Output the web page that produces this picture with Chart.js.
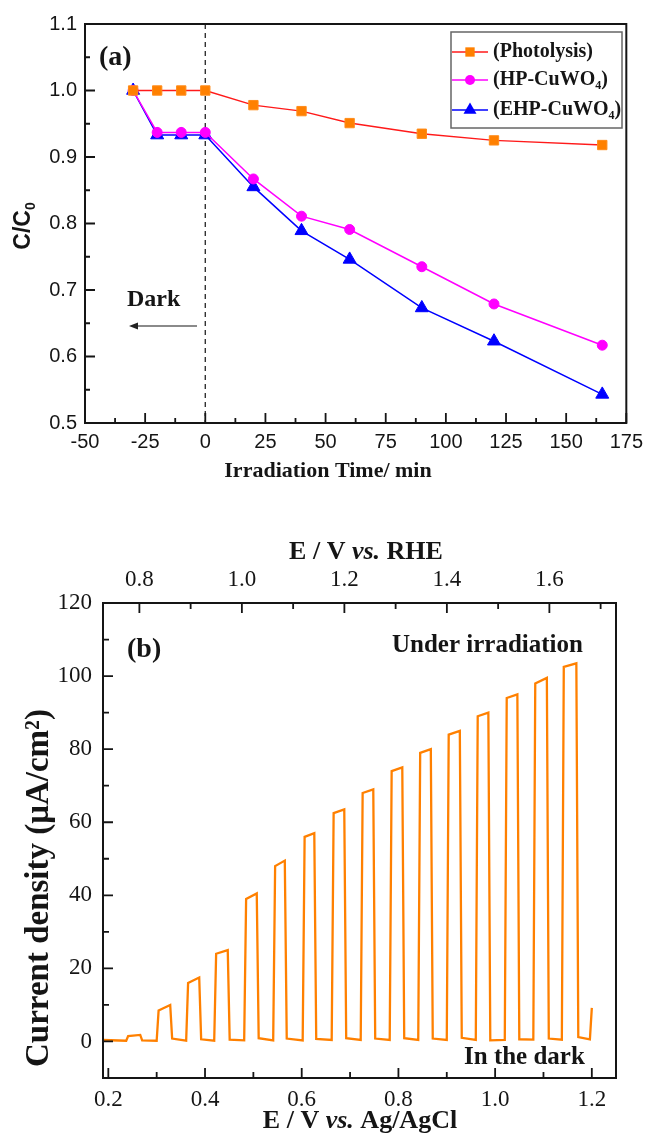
<!DOCTYPE html>
<html>
<head>
<meta charset="utf-8">
<title>CuWO4 degradation and chopped-light photocurrent</title>
<script src="https://cdn.jsdelivr.net/npm/chart.js@4.4.0/dist/chart.umd.min.js"></script>
<style>
  html, body { margin: 0; padding: 0; background: #fff; }
  canvas { display: block; }
</style>
</head>
<body>
<canvas id="chartA" width="650" height="490"></canvas>
<canvas id="chartB" width="650" height="653"></canvas>
<script>
// ---------- (a) C/C0 vs irradiation time ----------
const timeMin    = [-30, -20, -10, 0, 20, 40, 60, 90, 120, 165];
const photolysis = [1.000, 1.000, 1.000, 1.000, 0.978, 0.969, 0.951, 0.935, 0.925, 0.918];
const hpCuWO4    = [1.000, 0.937, 0.937, 0.937, 0.867, 0.811, 0.791, 0.735, 0.679, 0.617];
const ehpCuWO4   = [1.000, 0.933, 0.933, 0.933, 0.855, 0.789, 0.746, 0.673, 0.623, 0.543];
const seriesNames = ['(Photolysis)', '(HP-CuWO₄)', '(EHP-CuWO₄)'];

const xTicksA = [-50, -25, 0, 25, 50, 75, 100, 125, 150, 175];
const xMinorA = [-37.5, -12.5, 12.5, 37.5, 62.5, 87.5, 112.5, 137.5, 162.5];
const yTicksA = [0.5, 0.6, 0.7, 0.8, 0.9, 1.0, 1.1];
const yMinorA = [0.55, 0.65, 0.75, 0.85, 0.95, 1.05];

// ---------- (b) chopped-light photocurrent ----------
// each light pulse: switch-on / switch-off potential (V vs Ag/AgCl) and current (uA/cm2)
const pulseOn    = [0.237, 0.300, 0.361, 0.419, 0.481, 0.541, 0.602, 0.662, 0.722, 0.782, 0.841, 0.900, 0.960, 1.020, 1.079, 1.138];
const pulseOff   = [0.266, 0.328, 0.388, 0.447, 0.507, 0.565, 0.626, 0.688, 0.748, 0.808, 0.867, 0.927, 0.986, 1.046, 1.107, 1.168];
const lightStart = [1.5, 8.5, 16.0, 24.0, 39.0, 48.0, 56.0, 62.5, 68.0, 74.0, 79.0, 84.0, 89.0, 94.0, 98.0, 102.5];
const lightEnd   = [1.8, 10.0, 17.5, 25.0, 40.5, 49.5, 57.0, 63.5, 69.0, 75.0, 80.0, 85.0, 90.0, 95.0, 99.5, 103.5];
const darkBefore = [0.2, 0.2, 0.2, 0.2, 0.3, 0.3, 0.3, 0.4, 0.4, 0.4, 0.4, 0.4, 0.4, 0.4, 0.5, 0.5];
const darkAfter  = [0.3, 0.8, 0.6, 0.5, 0.9, 0.8, 0.7, 0.9, 0.8, 0.9, 0.8, 1.0, 0.3, 0.6, 0.8, 1.2];
const riseWidth = 0.004, fallWidth = 0.004;
const scanStart = 0.189, scanStartCurrent = 0.4;
const tailRiseAt = 1.196, tailDark = 0.6, scanEnd = 1.200, scanEndCurrent = 9.2;

const xTicksB = [0.2, 0.4, 0.6, 0.8, 1.0, 1.2];
const xMinorB = [0.3, 0.5, 0.7, 0.9, 1.1];
const rheTicks = [0.8, 1.0, 1.2, 1.4, 1.6];
const rheMinor = [0.9, 1.1, 1.3, 1.5, 1.7];
const yTicksB = [0, 20, 40, 60, 80, 100, 120];
const yMinorB = [10, 30, 50, 70, 90, 110];

const SANS = '"Liberation Sans", Arial, sans-serif';
const SERIF = '"Liberation Serif", "Times New Roman", serif';
const INK = '#151515';
const SUBSCRIPTS = '₀₁₂₃₄₅₆₇₈₉';

// draws text with *italic* parts and unicode subscript digits drawn as lowered small digits
function drawRich(ctx, text, x, y, o) {
    const size = o.size, weight = o.weight || 'bold';
    const runs = [];
    let italic = false;
    for (const ch of text) {
        if (ch === '*') { italic = !italic; continue; }
        const si = SUBSCRIPTS.indexOf(ch);
        const sub = si >= 0;
        const t = sub ? String(si) : ch;
        const last = runs[runs.length - 1];
        if (last && last.sub === sub && last.italic === italic) last.t += t;
        else runs.push({ t: t, sub: sub, italic: italic });
    }
    const fontOf = r => (r.italic ? 'italic ' : '') + weight + ' ' + (r.sub ? Math.round(size * 0.62) : size) + 'px ' + o.family;
    let total = 0;
    runs.forEach(r => { ctx.font = fontOf(r); r.w = ctx.measureText(r.t).width; total += r.w; });
    let cx = o.align === 'center' ? x - total / 2 : (o.align === 'right' ? x - total : x);
    ctx.save();
    ctx.fillStyle = o.color || INK;
    ctx.textAlign = 'left';
    ctx.textBaseline = 'middle';
    runs.forEach(r => {
        ctx.font = fontOf(r);
        ctx.fillText(r.t, cx, r.sub ? y + size * 0.32 : y);
        cx += r.w;
    });
    ctx.restore();
}

function drawRotated(ctx, text, cx, cy, o) {
    ctx.save();
    ctx.translate(cx, cy);
    ctx.rotate(-Math.PI / 2);
    drawRich(ctx, text, 0, 0, Object.assign({}, o, { align: 'center' }));
    ctx.restore();
}

// inward tick marks drawn from the chart's own scales
function drawTicks(ctx, area, scale, values, len, side) {
    ctx.beginPath();
    values.forEach(v => {
        const p = scale.getPixelForValue(v);
        if (side === 'left') { ctx.moveTo(area.left, p); ctx.lineTo(area.left + len, p); }
        if (side === 'bottom') { ctx.moveTo(p, area.bottom); ctx.lineTo(p, area.bottom - len); }
        if (side === 'top') { ctx.moveTo(p, area.top); ctx.lineTo(p, area.top + len); }
    });
    ctx.stroke();
}

function drawFrame(ctx, area) {
    ctx.save();
    ctx.strokeStyle = INK;
    ctx.lineWidth = 2;
    ctx.strokeRect(area.left, area.top, area.right - area.left, area.bottom - area.top);
    ctx.restore();
}

function drawMarker(ctx, style, x, y, r, color) {
    ctx.save();
    ctx.fillStyle = color;
    ctx.beginPath();
    if (style === 'rect') {
        const s = r * Math.SQRT1_2;
        ctx.rect(x - s, y - s, 2 * s, 2 * s);
    } else if (style === 'triangle') {
        ctx.moveTo(x, y - r);
        ctx.lineTo(x + r * 0.866, y + r * 0.5);
        ctx.lineTo(x - r * 0.866, y + r * 0.5);
        ctx.closePath();
    } else {
        ctx.arc(x, y, r, 0, Math.PI * 2);
    }
    ctx.fill();
    ctx.restore();
}

const toXY = (xs, ys) => xs.map((x, i) => ({ x: x, y: ys[i] }));

// ---------------- chart (a) ----------------
const decorA = {
    id: 'decorA',
    beforeDatasetsDraw(chart) {
        const ctx = chart.ctx, area = chart.chartArea;
        const x0 = chart.scales.x.getPixelForValue(0);
        ctx.save();
        ctx.strokeStyle = '#333';
        ctx.lineWidth = 1.4;
        ctx.setLineDash([5, 4]);
        ctx.beginPath();
        ctx.moveTo(x0, area.top);
        ctx.lineTo(x0, area.bottom);
        ctx.stroke();
        ctx.restore();
    },
    afterDatasetsDraw(chart) {
        const ctx = chart.ctx, area = chart.chartArea;
        drawFrame(ctx, area);
        ctx.save();
        ctx.strokeStyle = INK;
        ctx.lineWidth = 1.8;
        drawTicks(ctx, area, chart.scales.y, yTicksA, 10, 'left');
        drawTicks(ctx, area, chart.scales.y, yMinorA, 5, 'left');
        drawTicks(ctx, area, chart.scales.x, xTicksA, 10, 'bottom');
        drawTicks(ctx, area, chart.scales.x, xMinorA, 5, 'bottom');
        ctx.restore();

        // titles and annotations
        drawRich(ctx, 'Irradiation Time/ min', 328, 471, { size: 22, family: SERIF, align: 'center' });
        drawRotated(ctx, 'C/C₀', 24, 226, { size: 23, family: SANS });
        drawRich(ctx, '(a)', 99, 58, { size: 28, family: SERIF });
        drawRich(ctx, 'Dark', 127, 300, { size: 24, family: SERIF });

        // arrow pointing to the dark period
        ctx.save();
        ctx.strokeStyle = '#8a8a8a';
        ctx.lineWidth = 2;
        ctx.beginPath();
        ctx.moveTo(197, 326);
        ctx.lineTo(136, 326);
        ctx.stroke();
        ctx.fillStyle = '#222';
        ctx.beginPath();
        ctx.moveTo(129, 326);
        ctx.lineTo(138, 322.5);
        ctx.lineTo(138, 329.5);
        ctx.closePath();
        ctx.fill();
        ctx.restore();

        // legend
        const box = { left: 451, top: 32, width: 171, height: 96 };
        ctx.save();
        ctx.strokeStyle = '#666';
        ctx.lineWidth = 1.5;
        ctx.strokeRect(box.left, box.top, box.width, box.height);
        ctx.restore();
        const rowY = [52, 80, 110];
        chart.data.datasets.forEach((ds, i) => {
            const y = rowY[i];
            ctx.save();
            ctx.strokeStyle = ds.borderColor;
            ctx.lineWidth = 1.6;
            ctx.beginPath();
            ctx.moveTo(box.left + 1, y);
            ctx.lineTo(box.left + 37, y);
            ctx.stroke();
            ctx.restore();
            drawMarker(ctx, ds.pointStyle, box.left + 19, y, ds.pointRadius, ds.pointBackgroundColor);
            drawRich(ctx, ds.label, box.left + 42, y, { size: 20, family: SERIF });
        });
    }
};

new Chart(document.getElementById('chartA'), {
    type: 'line',
    data: {
        datasets: [
            {
                label: seriesNames[0],
                data: toXY(timeMin, photolysis),
                borderColor: '#ff1a1a',
                borderWidth: 1.5,
                pointStyle: 'rect',
                pointRadius: 6.6,
                pointBackgroundColor: '#ff8000',
                pointBorderColor: '#ff8c1a',
                pointBorderWidth: 1
            },
            {
                label: seriesNames[1],
                data: toXY(timeMin, hpCuWO4),
                borderColor: '#ff00ff',
                borderWidth: 1.5,
                pointStyle: 'circle',
                pointRadius: 5,
                pointBackgroundColor: '#ff00ff',
                pointBorderColor: '#ff00ff',
                pointBorderWidth: 1
            },
            {
                label: seriesNames[2],
                data: toXY(timeMin, ehpCuWO4),
                borderColor: '#0000ff',
                borderWidth: 1.5,
                pointStyle: 'triangle',
                pointRadius: 7.5,
                pointBackgroundColor: '#0000ff',
                pointBorderColor: '#0000ff',
                pointBorderWidth: 1
            }
        ]
    },
    options: {
        responsive: false,
        animation: false,
        layout: { padding: { top: 24, right: 18, left: 0, bottom: 0 } },
        plugins: { legend: { display: false }, tooltip: { enabled: false } },
        scales: {
            x: {
                type: 'linear',
                min: -50,
                max: 175,
                afterBuildTicks: s => { s.ticks = xTicksA.map(v => ({ value: v })); },
                afterFit: s => { s.height = 67; },
                grid: { display: false, drawTicks: false },
                border: { display: false },
                ticks: {
                    autoSkip: false, maxRotation: 0, padding: 7, color: INK,
                    font: { family: SANS, size: 20 },
                    callback: v => String(v)
                }
            },
            y: {
                type: 'linear',
                min: 0.5,
                max: 1.1,
                afterBuildTicks: s => { s.ticks = yTicksA.map(v => ({ value: v })); },
                afterFit: s => { s.width = 85; },
                grid: { display: false, drawTicks: false },
                border: { display: false },
                ticks: {
                    autoSkip: false, padding: 8, color: INK,
                    font: { family: SANS, size: 20 },
                    callback: v => Number(v).toFixed(1)
                }
            }
        }
    },
    plugins: [decorA]
});

// ---------------- chart (b) ----------------
const tracePoints = [{ x: scanStart, y: scanStartCurrent }];
pulseOn.forEach((on, i) => {
    tracePoints.push({ x: on, y: darkBefore[i] });
    tracePoints.push({ x: on + riseWidth, y: lightStart[i] });
    tracePoints.push({ x: pulseOff[i], y: lightEnd[i] });
    tracePoints.push({ x: pulseOff[i] + fallWidth, y: darkAfter[i] });
});
tracePoints.push({ x: tailRiseAt, y: tailDark });
tracePoints.push({ x: scanEnd, y: scanEndCurrent });

const decorB = {
    id: 'decorB',
    afterDatasetsDraw(chart) {
        const ctx = chart.ctx, area = chart.chartArea;
        drawFrame(ctx, area);
        ctx.save();
        ctx.strokeStyle = INK;
        ctx.lineWidth = 1.8;
        drawTicks(ctx, area, chart.scales.y, yTicksB, 10, 'left');
        drawTicks(ctx, area, chart.scales.y, yMinorB, 6, 'left');
        drawTicks(ctx, area, chart.scales.x, xTicksB, 10, 'bottom');
        drawTicks(ctx, area, chart.scales.x, xMinorB, 6, 'bottom');
        drawTicks(ctx, area, chart.scales.xTop, rheTicks, 10, 'top');
        drawTicks(ctx, area, chart.scales.xTop, rheMinor, 6, 'top');
        ctx.restore();

        drawRich(ctx, 'E / V *vs.* Ag/AgCl', 360, 631, { size: 26, family: SERIF, align: 'center' });
        drawRich(ctx, 'E / V *vs.* RHE', 366, 62, { size: 26, family: SERIF, align: 'center' });
        drawRotated(ctx, 'Current density (μA/cm²)', 39, 398, { size: 33, family: SERIF });
        drawRich(ctx, '(b)', 127, 160, { size: 28, family: SERIF });
        drawRich(ctx, 'Under irradiation', 392, 156, { size: 25, family: SERIF });
        drawRich(ctx, 'In the dark', 464, 568, { size: 25, family: SERIF });
    }
};

new Chart(document.getElementById('chartB'), {
    type: 'line',
    data: {
        datasets: [{
            label: 'Chopped-light photocurrent',
            data: tracePoints,
            xAxisID: 'x',
            yAxisID: 'y',
            borderColor: '#ff8000',
            borderWidth: 2.3,
            pointRadius: 0,
            tension: 0
        }]
    },
    options: {
        responsive: false,
        animation: false,
        layout: { padding: { top: 0, right: 34, left: 0, bottom: 0 } },
        plugins: { legend: { display: false }, tooltip: { enabled: false } },
        scales: {
            x: {
                type: 'linear',
                position: 'bottom',
                min: 0.189,
                max: 1.25,
                afterBuildTicks: s => { s.ticks = xTicksB.map(v => ({ value: v })); },
                afterFit: s => { s.height = 65; },
                grid: { display: false, drawTicks: false },
                border: { display: false },
                ticks: {
                    autoSkip: false, maxRotation: 0, padding: 8, color: INK,
                    font: { family: SERIF, size: 23 },
                    callback: v => Number(v).toFixed(1)
                }
            },
            xTop: {
                type: 'linear',
                axis: 'x',
                position: 'top',
                min: 0.729,
                max: 1.730,
                afterBuildTicks: s => { s.ticks = rheTicks.map(v => ({ value: v })); },
                afterFit: s => { s.height = 113; },
                grid: { display: false, drawTicks: false },
                border: { display: false },
                ticks: {
                    autoSkip: false, maxRotation: 0, padding: 9, color: INK,
                    font: { family: SERIF, size: 23 },
                    callback: v => Number(v).toFixed(1)
                }
            },
            y: {
                type: 'linear',
                min: -10,
                max: 120,
                afterBuildTicks: s => { s.ticks = yTicksB.map(v => ({ value: v })); },
                afterFit: s => { s.width = 103; },
                grid: { display: false, drawTicks: false },
                border: { display: false },
                ticks: {
                    autoSkip: false, padding: 11, color: INK,
                    font: { family: SERIF, size: 23 },
                    callback: v => String(v)
                }
            }
        }
    },
    plugins: [decorB]
});
</script>
</body>
</html>
